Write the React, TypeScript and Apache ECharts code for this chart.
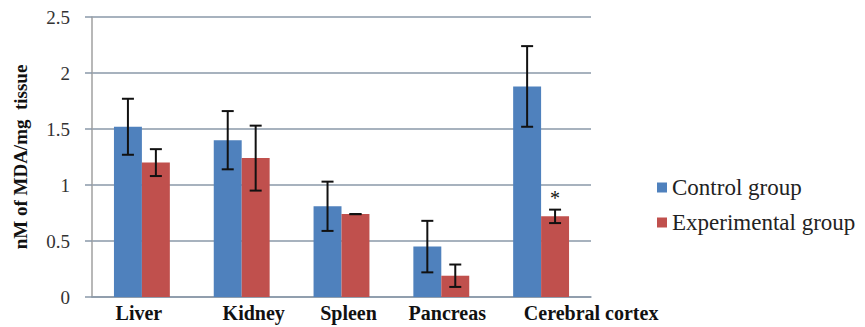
import React, { useEffect, useRef } from "react";
import * as echarts from "echarts";

const categories = ["Liver", "Kidney", "Spleen", "Pancreas", "Cerebral cortex"];
const controlValues = [1.52, 1.4, 0.81, 0.45, 1.88];
const controlErrors = [0.25, 0.26, 0.22, 0.23, 0.36];
const experimentalValues = [1.2, 1.24, 0.74, 0.19, 0.72];
const experimentalErrors = [0.12, 0.29, 0.0, 0.1, 0.06];
const significance = ["", "", "", "", "*"];
const yTicks = [0, 0.5, 1, 1.5, 2, 2.5];

const BLUE = "#4F81BD";
const RED = "#C0504D";
const GRID = "#8a98a8";
const FONT = "Liberation Serif";
const GAP = 0.44;
const labelShift = [-3, 12, 7, 6, 50];

function errorSeries(name: string, values: number[], errors: number[], side: number, marks?: string[]) {
  return {
    type: "custom",
    name: name + " error",
    z: 10,
    silent: true,
    data: values.map((v, i) => [i, v, errors[i]]),
    renderItem: (params: any, api: any) => {
      const idx = api.value(0);
      const v = api.value(1);
      const e = api.value(2);
      const band = api.size([1, 0])[0];
      const barW = (band * (1 - GAP)) / 2;
      const c = api.coord([idx, v]);
      const x = c[0] + side * barW / 2;
      const top = api.coord([idx, v + e])[1];
      const bot = api.coord([idx, v - e])[1];
      const cap = 6;
      const style = { stroke: "#111", lineWidth: 2 };
      const children: any[] = [
        { type: "line", shape: { x1: x, y1: top, x2: x, y2: bot }, style },
        { type: "line", shape: { x1: x - cap, y1: top, x2: x + cap, y2: top }, style },
        { type: "line", shape: { x1: x - cap, y1: bot, x2: x + cap, y2: bot }, style },
      ];
      if (marks && marks[idx]) {
        children.push({
          type: "text",
          style: {
            text: marks[idx],
            x: x,
            y: top - 2,
            align: "center",
            verticalAlign: "bottom",
            fontFamily: FONT,
            fontWeight: "normal",
            fontSize: 20,
            fill: "#111",
          },
        });
      }
      return { type: "group", children };
    },
  };
}

export default function App() {
  const ref = useRef<HTMLDivElement>(null);
  useEffect(() => {
    document.body.style.margin = "0";
    if (!ref.current) return;
    const chart = echarts.init(ref.current, null, { renderer: "svg" });
    chart.setOption({
      animation: false,
      backgroundColor: "#ffffff",
      textStyle: { fontFamily: FONT },
      grid: { left: 92, right: 274, top: 17, bottom: 30 },
      legend: {
        orient: "vertical",
        left: 652,
        top: 171,
        itemWidth: 10,
        itemHeight: 10,
        itemGap: 12,
        icon: "rect",
        data: ["Control group", "Experimental group"],
        textStyle: { fontFamily: FONT, fontSize: 23, color: "#222" },
      },
      xAxis: {
        type: "category",
        data: categories.map((c, i) => ({
          value: c,
          textStyle: { padding: labelShift[i] >= 0 ? [0, 0, 0, labelShift[i] * 2] : [0, -labelShift[i] * 2, 0, 0] },
        })),
        axisLine: { show: true, lineStyle: { color: GRID, width: 1.5 } },
        axisTick: { show: false },
        axisLabel: {
          interval: 0,
          fontFamily: FONT,
          fontWeight: "bold",
          fontSize: 20,
          color: "#111",
          margin: 6,
        },
      },
      yAxis: {
        type: "value",
        min: yTicks[0],
        max: yTicks[yTicks.length - 1],
        interval: yTicks[1] - yTicks[0],
        name: "nM of MDA/mg  tissue",
        nameLocation: "middle",
        nameGap: 62,
        nameTextStyle: { fontFamily: FONT, fontWeight: "bold", fontSize: 19, color: "#111" },
        axisLine: { show: true, lineStyle: { color: "#a0a0a0", width: 1.5 } },
        axisTick: { show: true, inside: false, length: 7, lineStyle: { color: GRID, width: 1.5 } },
        splitLine: { show: true, lineStyle: { color: GRID, width: 1.5 } },
        axisLabel: {
          fontFamily: FONT,
          fontSize: 19,
          color: "#333",
          margin: 22,
          formatter: (v: number) => String(v),
        },
      },
      series: [
        {
          type: "bar",
          name: "Control group",
          data: controlValues,
          itemStyle: { color: BLUE },
          barGap: "0%",
          barCategoryGap: GAP * 100 + "%",
        },
        {
          type: "bar",
          name: "Experimental group",
          data: experimentalValues,
          itemStyle: { color: RED },
          barGap: "0%",
          barCategoryGap: GAP * 100 + "%",
        },
        errorSeries("Control group", controlValues, controlErrors, -1),
        errorSeries("Experimental group", experimentalValues, experimentalErrors, 1, significance),
      ],
    });
    return () => chart.dispose();
  }, []);
  return <div ref={ref} style={{ width: 865, height: 327 }} />;
}
